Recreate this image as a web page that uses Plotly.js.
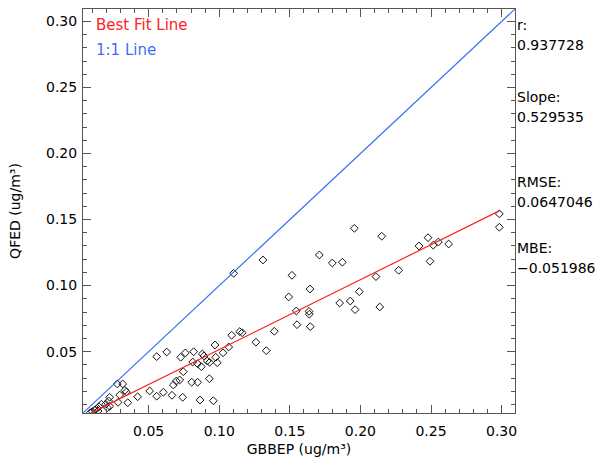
<!DOCTYPE html>
<html>
<head>
<meta charset="utf-8">
<script src="https://cdn.plot.ly/plotly-3.0.1.min.js"></script>
<style>html,body{margin:0;padding:0;background:#fff;}#chart{width:615px;height:462px;}</style>
</head>
<body>
<div id="chart"></div>
<script>
// GBBEP (x) vs QFED (y) sample values, ug/m3
const gbbep = [0.1957,0.2151,0.2984,0.2984,0.2415,0.2479,0.2516,0.2552,0.2625,0.2493,
  0.1709,0.1801,0.1872,0.1310,0.1102,0.2271,0.1515,0.2110,0.1643,0.1992,
  0.1492,0.1853,0.1928,0.2137,0.1962,0.1546,0.1636,0.1638,0.1551,0.1645,
  0.1390,0.1145,0.1163,0.1088,0.1260,0.1067,0.1027,0.1333,
  0.0557,0.0628,0.0727,0.0760,0.0819,0.0880,0.0892,0.0812,0.0847,0.0873,
  0.0915,0.0932,0.0970,0.0975,0.0986,0.0745,0.0720,0.0696,0.0675,0.0805,
  0.0847,0.0930,0.0741,0.0864,0.0958,0.0665,0.0604,0.0557,0.0507,0.0422,
  0.0352,0.0283,0.0278,0.0316,0.0332,0.0342,0.0295,0.0224,0.0217,0.0196,
  0.0165,0.0148,0.0129,0.0118,0.0101,0.0087,0.0207,0.0224,0.0141];
const qfed = [0.1434,0.1374,0.1442,0.1543,0.1300,0.1363,0.1306,0.1330,0.1315,0.1184,
  0.1232,0.1171,0.1177,0.1194,0.1093,0.1116,0.1078,0.1068,0.0974,0.0954,
  0.0914,0.0868,0.0883,0.0838,0.0818,0.0808,0.0805,0.0783,0.0704,0.0689,
  0.0654,0.0651,0.0643,0.0624,0.0571,0.0535,0.0491,0.0507,
  0.0462,0.0497,0.0457,0.0490,0.0499,0.0482,0.0467,0.0421,0.0408,0.0386,
  0.0429,0.0419,0.0550,0.0457,0.0416,0.0348,0.0285,0.0277,0.0247,0.0268,
  0.0268,0.0295,0.0154,0.0133,0.0128,0.0169,0.0192,0.0162,0.0202,0.0158,
  0.0113,0.0116,0.0255,0.0255,0.0207,0.0194,0.0171,0.0154,0.0126,0.0101,
  0.0101,0.0083,0.0065,0.0058,0.0045,0.0037,0.0075,0.0086,0.0050];

const fitX = [0.0087, 0.2984];
const fitY = [0.0032, 0.1566];
const oneX = [0.0035, 0.3095];
const oneY = [0.0035, 0.3095];

const statLabels = ["r:", "Slope:", "RMSE:", "MBE:"];
const statValues = ["0.937728", "0.529535", "0.0647046", "\u22120.051986"];
const tickVals = [0.05, 0.10, 0.15, 0.20, 0.25, 0.30];
const tickText = ["0.05", "0.10", "0.15", "0.20", "0.25", "0.30"];

const FONT = "DejaVu Sans, sans-serif";
const axisRange = [0.0035, 0.3095];

function axis(extra) {
  return Object.assign({
    range: axisRange, autorange: false,
    tickmode: "array", tickvals: tickVals, ticktext: tickText,
    ticks: "inside", ticklen: 8, tickwidth: 1, tickcolor: "#555",
    minor: {dtick: 0.01, tick0: 0, ticks: "inside", ticklen: 4, tickwidth: 1, tickcolor: "#555"},
    mirror: "allticks", showline: true, linecolor: "#555", linewidth: 1,
    showgrid: false, zeroline: false,
    tickfont: {family: FONT, size: 14, color: "#000"}
  }, extra);
}

const traces = [
  {x: gbbep, y: qfed, type: "scatter", mode: "markers",
   marker: {symbol: "diamond-open", size: 6, color: "#111", line: {width: 1, color: "#111"}},
   hoverinfo: "x+y"},
  {x: oneX, y: oneY, type: "scatter", mode: "lines", line: {color: "#3d6ff2", width: 1.2}},
  {x: fitX, y: fitY, type: "scatter", mode: "lines", line: {color: "#ff2222", width: 1.2}}
];

const statY = [25, 97, 182, 248];
const ann = [
  {text: "Best Fit Line", xref: "paper", yref: "paper", x: (94-83)/432, y: (413-25)/404,
   xanchor: "left", yanchor: "middle", showarrow: false, font: {family: FONT, size: 15, color: "#ff2222"}},
  {text: "1:1 Line", xref: "paper", yref: "paper", x: (94-83)/432, y: (413-50)/404,
   xanchor: "left", yanchor: "middle", showarrow: false, font: {family: FONT, size: 15, color: "#3d6ff2"}}
];
statLabels.forEach((lab, i) => {
  ann.push({text: lab, xref: "paper", yref: "paper", x: (515-83)/432, y: (413-statY[i])/404,
    xanchor: "left", yanchor: "middle", showarrow: false, font: {family: FONT, size: 14, color: "#000"}});
  ann.push({text: statValues[i], xref: "paper", yref: "paper", x: (515-83)/432, y: (413-statY[i]-20)/404,
    xanchor: "left", yanchor: "middle", showarrow: false, font: {family: FONT, size: 14, color: "#000"}});
});

const layout = {
  width: 615, height: 462,
  margin: {l: 83, r: 100, t: 9, b: 49},
  paper_bgcolor: "#fff", plot_bgcolor: "#fff",
  showlegend: false,
  xaxis: axis({title: {text: "GBBEP (ug/m\u00b3)", font: {family: FONT, size: 14, color: "#000"}, standoff: 6},
               ticklabelstandoff: 5}),
  yaxis: axis({title: {text: "QFED (ug/m\u00b3)", font: {family: FONT, size: 14, color: "#000"}, standoff: 22},
               ticklabelstandoff: 2}),
  annotations: ann
};

Plotly.newPlot("chart", traces, layout, {staticPlot: true, displayModeBar: false});
</script>
</body>
</html>
